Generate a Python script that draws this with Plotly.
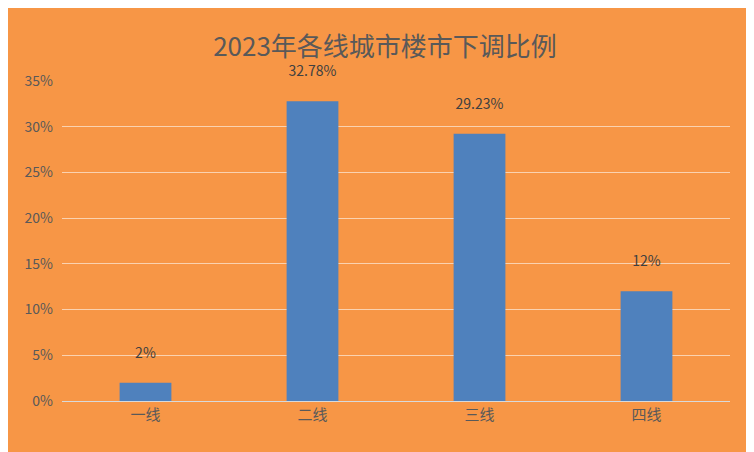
import plotly.graph_objects as go

categories = ["一线", "二线", "三线", "四线"]
values = [0.02, 0.3278, 0.2923, 0.12]
labels = ["2%", "32.78%", "29.23%", "12%"]

fig = go.Figure()
fig.add_trace(go.Bar(
    x=categories, y=values, text=[l + "<br> " for l in labels], textposition="outside",
    marker=dict(color="#4F81BD", line=dict(width=0)), width=0.31,
    textfont=dict(size=14, color="#404040"), cliponaxis=False,
))

fig.update_layout(
    width=754, height=452,
    paper_bgcolor="#F79646", plot_bgcolor="#F79646",
    font=dict(family="Noto Sans CJK SC", color="#595959"),
    title=dict(text="2023年各线城市楼市下调比例", x=0.5, xanchor="center",
               y=0.935, font=dict(size=26, color="#595959")),
    margin=dict(l=54, r=32, t=73, b=59),
    showlegend=False,
    bargap=0.69,
    xaxis=dict(showline=True, linecolor="#D9D9D9", tickfont=dict(size=15),
               ticks=""),
    yaxis=dict(range=[0, 0.35], dtick=0.05, tickformat=".0%",
               gridcolor="#FAD2B0", zeroline=False, tickfont=dict(size=14),
               ticklabelstandoff=8),
)
fig.write_html("out.html")
